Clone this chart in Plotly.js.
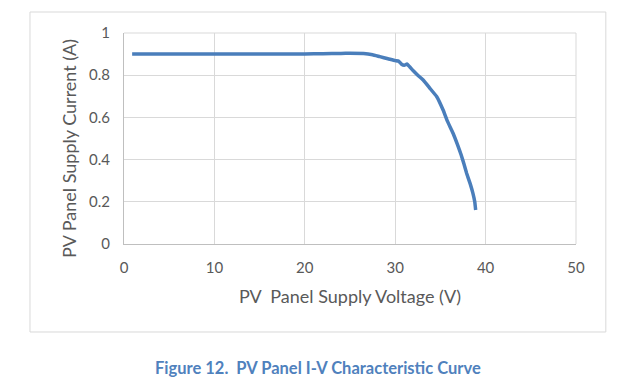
<!DOCTYPE html>
<html>
<head>
<meta charset="utf-8">
<script src="https://cdn.plot.ly/plotly-3.0.1.min.js"></script>
<style>
html,body{margin:0;padding:0;background:#fff;}
#chart{width:637px;height:390px;}
</style>
</head>
<body>
<div id="chart"></div>
<script>
// Voltage (V) and current (A)
const voltage = [0.9, 5, 10, 15, 17.3, 20, 22, 24, 25, 26.5, 27.5, 28.3, 29.2, 30, 30.4, 30.7, 31.0, 31.3, 31.6, 32, 32.5, 33.1, 33.8, 34.6, 35.3, 35.8, 36.4, 36.9, 37.3, 37.6, 37.9, 38.3, 38.6, 38.8, 38.9];
const current = [0.900, 0.900, 0.900, 0.900, 0.900, 0.901, 0.902, 0.903, 0.904, 0.903, 0.897, 0.888, 0.878, 0.869, 0.866, 0.852, 0.847, 0.853, 0.840, 0.821, 0.800, 0.777, 0.740, 0.698, 0.635, 0.580, 0.525, 0.470, 0.422, 0.380, 0.335, 0.285, 0.240, 0.200, 0.161];
const xTicks = [0, 10, 20, 30, 40, 50];
const yTicks = [0, 0.2, 0.4, 0.6, 0.8, 1];
const yTickText = ['0', '0.2', '0.4', '0.6', '0.8', '1'];
const xTitle = 'PV  Panel Supply Voltage (V)';
const yTitle = 'PV Panel Supply Current (A)';
const caption = 'Figure 12.  PV Panel I-V Characteristic Curve';

const font = 'Lato, "Open Sans", sans-serif';
const trace = {
  x: voltage, y: current, type: 'scatter', mode: 'lines',
  line: {color: '#4A7EBB', width: 3.5, shape: 'spline', smoothing: 0.3},
  hoverinfo: 'none'
};
const layout = {
  width: 637, height: 390,
  margin: {l: 124, r: 61, t: 33, b: 146},
  paper_bgcolor: '#ffffff', plot_bgcolor: '#ffffff',
  showlegend: false,
  font: {family: font, color: '#595959'},
  xaxis: {
    range: [0, 50], tickvals: xTicks, ticktext: xTicks.map(String),
    showgrid: true, gridcolor: '#d9d9d9', gridwidth: 1,
    zeroline: false, showline: true, linecolor: '#bfbfbf', linewidth: 1,
    ticks: 'outside', ticklen: 10, tickcolor: 'rgba(0,0,0,0)',
    tickfont: {size: 15, color: '#595959', family: font},
    title: {text: xTitle, font: {size: 18, color: '#595959', family: font}, standoff: 15}
  },
  yaxis: {
    range: [0, 1], tickvals: yTicks, ticktext: yTickText,
    showgrid: true, gridcolor: '#d9d9d9', gridwidth: 1,
    zeroline: false, showline: true, linecolor: '#bfbfbf', linewidth: 1,
    ticks: 'outside', ticklen: 10, tickcolor: 'rgba(0,0,0,0)',
    tickfont: {size: 15, color: '#595959', family: font}
  },
  shapes: [
    {type: 'rect', xref: 'paper', yref: 'paper', x0: -0.208, x1: 1.066, y0: -0.417, y1: 1.0995,
     line: {color: '#d9d9d9', width: 1}, fillcolor: 'rgba(0,0,0,0)', layer: 'below'},
    {type: 'line', xref: 'paper', yref: 'paper', x0: 0, x1: 1, y0: 1, y1: 1, line: {color: '#d9d9d9', width: 1}},
    {type: 'line', xref: 'paper', yref: 'paper', x0: 1, x1: 1, y0: 0, y1: 1, line: {color: '#d9d9d9', width: 1}}
  ],
  annotations: [
    {text: yTitle, xref: 'paper', yref: 'paper', textangle: -90,
     x: (69 - 124) / 452, y: (244 - 149) / 211, xanchor: 'center', yanchor: 'middle', showarrow: false,
     font: {size: 18, color: '#595959', family: font}},
    {text: '<b>' + caption + '</b>', xref: 'paper', yref: 'paper',
     x: (318 - 124) / 452, y: (244 - 367.5) / 211, xanchor: 'center', yanchor: 'middle', showarrow: false,
     font: {size: 16.5, color: '#4F81BD', family: font}}
  ]
};
Plotly.newPlot('chart', [trace], layout, {staticPlot: true, displayModeBar: false});
</script>
</body>
</html>
